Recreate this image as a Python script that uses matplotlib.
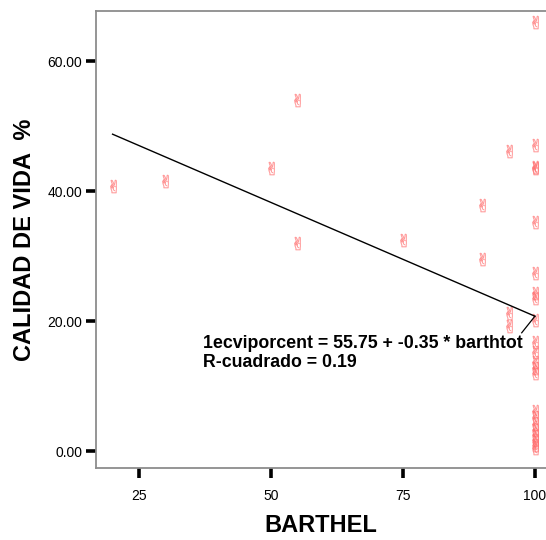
import matplotlib
matplotlib.use("Agg")
import matplotlib.pyplot as plt
import numpy as np

plt.rcParams["font.family"] = ["Liberation Sans", "DejaVu Sans"]

# Barthel score vs quality of life (%)
barthel = [20, 30, 50, 55, 55, 75, 90, 90, 95, 95, 95,
           100, 100, 100, 100, 100, 100, 100, 100, 100, 100, 100,
           100, 100, 100, 100, 100, 100, 100, 100, 100, 100, 100]
calidad = [40.8, 41.5, 43.5, 54.0, 32.0, 32.5, 37.8, 29.5, 46.2, 21.2, 19.3,
           66.0, 47.1, 43.7, 43.5, 35.2, 27.4, 24.3, 23.5, 20.2, 16.8, 15.2,
           13.7, 12.8, 12.0, 6.2, 5.2, 4.2, 3.3, 2.5, 1.7, 1.0, 0.4]

intercept = 55.75
slope = -0.35
fit_range = [20, 100]

xticks = [25, 50, 75, 100]
yticks = [0, 20, 40, 60]

fig = plt.figure(figsize=(5.46, 5.40), dpi=100)
ax = fig.add_axes([96 / 546, 72 / 540, 450 / 546, 457 / 540])

ax.plot(barthel, calidad, linestyle="none", marker="$\u270C$",
        markersize=9.5, color="#ff6b6b", alpha=0.6, markeredgewidth=0.3)

xf = np.array(fit_range)
ax.plot(xf, intercept + slope * xf, color="black", linewidth=1.0)

# leader from the label to the end of the fit line
ax.plot([97.5, 100], [18.2, intercept + slope * 100], color="black", linewidth=0.9)

ax.text(37.1, 16.6, "1ecviporcent = 55.75 + -0.35 * barthtot",
        fontsize=12.8, fontweight="bold", va="center", ha="left")
ax.text(37.1, 13.6, "R-cuadrado = 0.19",
        fontsize=12.8, fontweight="bold", va="center", ha="left")

ax.set_xlim(16.86, 102.1)
ax.set_ylim(-2.6, 67.7)
ax.set_xticks(xticks)
ax.set_xticklabels([str(v) for v in xticks])
ax.set_yticks(yticks)
ax.set_yticklabels([f"{v:.2f}" for v in yticks])

for side in ["left", "bottom", "top"]:
    ax.spines[side].set_color("#8c8c8c")
    ax.spines[side].set_linewidth(1.3)
ax.spines["right"].set_visible(False)

ax.tick_params(axis="both", direction="out", length=7, width=2.6,
               color="black", labelsize=10)
ax.tick_params(axis="x", pad=8)
ax.tick_params(axis="y", pad=3)

fig.text(321 / 546, 1 - 526 / 540, "BARTHEL", fontsize=17,
         fontweight="bold", ha="center", va="center")
fig.text(25 / 546, 1 - 240 / 540, "CALIDAD DE VIDA  %", fontsize=17,
         fontweight="bold", ha="center", va="center", rotation=90)

fig.savefig("out.png", dpi=100)
